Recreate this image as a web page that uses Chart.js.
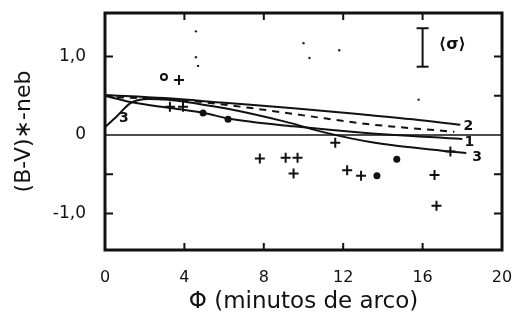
<!DOCTYPE html>
<html>
<head>
<meta charset="utf-8">
<script src="https://cdn.jsdelivr.net/npm/chart.js@4/dist/chart.umd.min.js"></script>
<style>
  html, body { margin: 0; padding: 0; background: #fff; }
  #wrap { width: 515px; height: 318px; }
</style>
</head>
<body>
<div id="wrap"><canvas id="colorChart" width="515" height="318"></canvas></div>
<script>
// model curves (Phi in arcmin, colour excess)
const curve1 = [[0, 0.5], [1.3, 0.42], [3.4, 0.34], [5, 0.28], [6.2, 0.21], [9.5, 0.11], [13, 0.03], [18, -0.05]];
const curve2 = [[0, 0.51], [3, 0.47], [6, 0.41], [9.5, 0.34], [13, 0.26], [15.5, 0.2], [17.9, 0.13]];
const curve3 = [[0, 0.1], [0.6, 0.24], [1.3, 0.41], [2.2, 0.46], [3.2, 0.45], [4.6, 0.4], [6.05, 0.34], [9.07, 0.17], [11.1, 0.03], [13.6, -0.1], [17.4, -0.21], [18.2, -0.23]];
const curveDashed = [[0.6, 0.48], [4, 0.44], [6.55, 0.37], [10, 0.25], [13.2, 0.14], [17.6, 0.04]];

// observations
const plusPoints = [[3.73, 0.7], [3.27, 0.36], [3.93, 0.36], [7.8, -0.3], [9.1, -0.29], [9.7, -0.29], [9.5, -0.49],
  [11.6, -0.1], [12.2, -0.45], [12.9, -0.52], [16.6, -0.51], [16.7, -0.9], [17.4, -0.21]];
const dotPoints = [[4.94, 0.28], [6.2, 0.2], [13.7, -0.52], [14.7, -0.31]];
const openPoints = [[2.97, 0.74]];
const specks = [[4.58, 1.32], [4.58, 0.99], [4.69, 0.88], [10.0, 1.17], [10.3, 0.98], [11.8, 1.08], [15.8, 0.45]];

// mean error bar
const sigmaBar = [[16, 0.87], [16, 1.36]];

const xTicks = [0, 4, 8, 12, 16, 20];
const yTicks = [-1, 0, 1];
const yMinor = [-1, -0.5, 0.5, 1];
const xMinor = [4, 8, 12, 16];

const toXY = (arr) => arr.map(([x, y]) => ({ x: x, y: y }));
const FONT = "'DejaVu Sans', sans-serif";

const curveLabels = [
  { text: "1", x: 18.35, y: -0.1 },
  { text: "2", x: 18.3, y: 0.11 },
  { text: "3", x: 18.75, y: -0.28 },
  { text: "3", x: 0.95, y: 0.21 },
  { text: "\u27E8\u03C3\u27E9", x: 17.5, y: 1.15 },
];

const framePlugin = {
  id: "frame",
  beforeDatasetsDraw(chart) {
    const { ctx, chartArea: a, scales } = chart;
    const y0 = scales.y.getPixelForValue(0);
    ctx.save();
    ctx.strokeStyle = "#111";
    ctx.lineWidth = 1.5;
    ctx.beginPath();
    ctx.moveTo(a.left, y0);
    ctx.lineTo(a.right, y0);
    ctx.stroke();
    ctx.restore();
  },
  afterDraw(chart) {
    const { ctx, chartArea: a, scales } = chart;
    ctx.save();
    ctx.strokeStyle = "#111";
    ctx.lineWidth = 3;
    ctx.strokeRect(a.left, a.top, a.right - a.left, a.bottom - a.top);
    ctx.lineWidth = 2;
    ctx.beginPath();
    xMinor.forEach((v) => {
      const px = scales.x.getPixelForValue(v);
      ctx.moveTo(px, a.bottom); ctx.lineTo(px, a.bottom - 7);
      ctx.moveTo(px, a.top); ctx.lineTo(px, a.top + 7);
    });
    yMinor.forEach((v) => {
      const py = scales.y.getPixelForValue(v);
      ctx.moveTo(a.left, py); ctx.lineTo(a.left + 8, py);
      ctx.moveTo(a.right, py); ctx.lineTo(a.right - 8, py);
    });
    ctx.stroke();
    ctx.fillStyle = "#111";
    ctx.textAlign = "center";
    ctx.textBaseline = "middle";
    curveLabels.forEach((l) => {
      ctx.font = (l.text.length > 1 ? "bold 16px " : "bold 14px ") + FONT;
      ctx.fillText(l.text, scales.x.getPixelForValue(l.x), scales.y.getPixelForValue(l.y));
    });
    ctx.restore();
  },
};

const lineSet = (data, dashed) => ({
  type: "line",
  data: toXY(data),
  borderColor: "#111",
  borderWidth: 2,
  borderDash: dashed ? [7, 6] : [],
  pointRadius: 0,
  cubicInterpolationMode: "monotone",
  fill: false,
});

// drop the label padding chart.js adds, the frame sits right at the layout padding
const noEdgePadding = (scale) => {
  scale.paddingTop = 0;
  scale.paddingBottom = 0;
  scale.paddingLeft = 0;
  scale.paddingRight = 0;
};

const chart = new Chart(document.getElementById("colorChart").getContext("2d"), {
  type: "scatter",
  data: {
    datasets: [
      lineSet(curve1, false),
      lineSet(curve2, false),
      lineSet(curve3, false),
      lineSet(curveDashed, true),
      {
        data: toXY(plusPoints),
        pointStyle: "cross",
        pointRadius: 5,
        borderWidth: 2,
        borderColor: "#111",
      },
      {
        data: toXY(dotPoints),
        pointStyle: "circle",
        pointRadius: 3.5,
        borderWidth: 0,
        backgroundColor: "#111",
      },
      {
        data: toXY(openPoints),
        pointStyle: "circle",
        pointRadius: 3,
        borderWidth: 2,
        borderColor: "#111",
        backgroundColor: "#fff",
      },
      {
        data: toXY(specks),
        pointStyle: "circle",
        pointRadius: 1.2,
        borderWidth: 0,
        backgroundColor: "#222",
      },
      {
        type: "line",
        data: toXY(sigmaBar),
        borderColor: "#111",
        borderWidth: 2,
        pointStyle: "line",
        pointRadius: 6,
        pointBorderWidth: 2,
        pointBorderColor: "#111",
      },
    ],
  },
  options: {
    responsive: false,
    animation: false,
    events: [],
    layout: { padding: { top: 13, right: 13, left: 0, bottom: 0 } },
    plugins: {
      legend: { display: false },
      tooltip: { enabled: false },
    },
    scales: {
      x: {
        type: "linear",
        min: 0,
        max: 20,
        afterBuildTicks: (scale) => { scale.ticks = xTicks.map((v) => ({ value: v })); },
        afterFit: (scale) => { scale.height = 68; noEdgePadding(scale); },
        grid: { display: false, drawTicks: false },
        border: { display: false },
        ticks: {
          color: "#111",
          padding: 18,
          maxRotation: 0,
          font: { family: FONT, size: 16 },
          callback: (v) => String(v),
        },
        title: {
          display: true,
          text: "\u03A6 (minutos de arco)",
          color: "#111",
          font: { family: FONT, size: 23 },
          padding: { top: 0, bottom: 2 },
        },
      },
      y: {
        type: "linear",
        min: -1.465,
        max: 1.554,
        afterBuildTicks: (scale) => { scale.ticks = yTicks.map((v) => ({ value: v })); },
        afterFit: (scale) => { scale.width = 105; noEdgePadding(scale); },
        grid: { display: false, drawTicks: false },
        border: { display: false },
        ticks: {
          color: "#111",
          padding: 19,
          font: { family: FONT, size: 17 },
          callback: (v) => (v === 0 ? "0" : v.toFixed(1).replace(".", ",")),
        },
        title: {
          display: true,
          text: "(B-V)\u2217-neb",
          color: "#111",
          font: { family: FONT, size: 22 },
          padding: { top: 11, bottom: 0 },
        },
      },
    },
  },
  plugins: [framePlugin],
});
</script>
</body>
</html>
